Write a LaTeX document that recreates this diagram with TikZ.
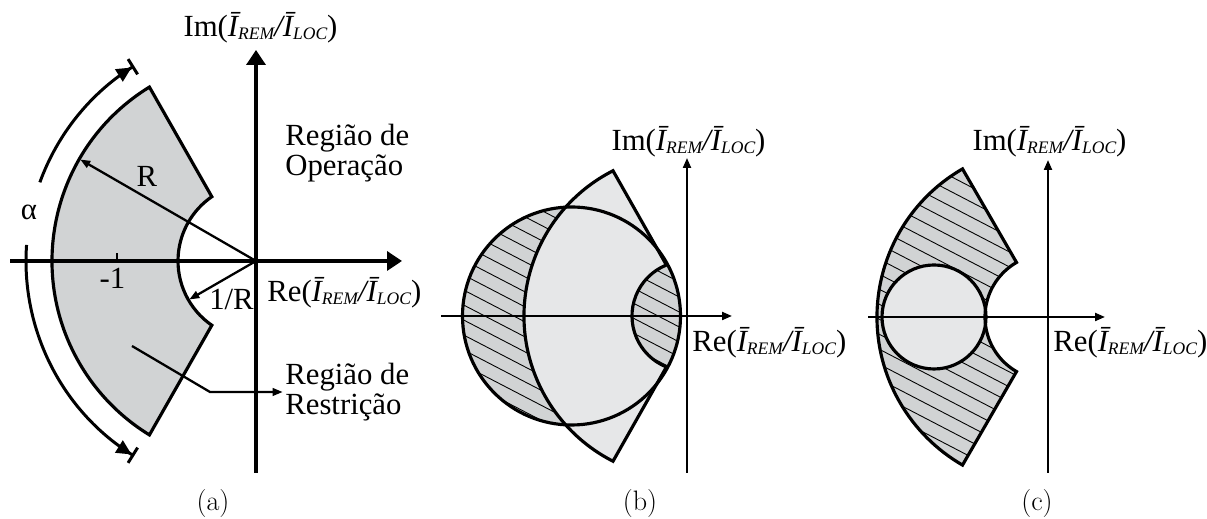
\documentclass[tikz,border=0pt]{standalone}
\usepackage{fontspec}
\newfontfamily\labelfont{Liberation Serif}
\usetikzlibrary{arrows.meta}
\definecolor{darkfill}{RGB}{209,211,212}
\definecolor{lightfill}{RGB}{230,231,232}
\newcommand{\irel}{{\itshape Ī\raisebox{-0.2ex}{\fontsize{10}{11}\selectfont REM}/Ī\raisebox{-0.2ex}{\fontsize{10}{11}\selectfont LOC}}}
% annular sector: outer radius, outer angle, inner radius, inner angle
\newcommand{\sectorpath}[4]{(#2:#1) arc[start angle=#2,end angle={360-#2},radius=#1] -- ({360-#4}:#3) arc[start angle={360-#4},end angle=#4,radius=#3] -- cycle}

\begin{document}
\begin{tikzpicture}[x=0.02cm,y=0.02cm,every node/.style={font=\labelfont\fontsize{17.5}{17}\selectfont,inner sep=0},
  outline/.style={line width=1.8pt,line join=miter},
  bigaxis/.style={line width=2pt,-{Triangle[length=0.3cm,width=0.38cm]}},
  smallaxis/.style={line width=1.2pt,-{Triangle[length=0.2cm,width=0.16cm]}},
  pointer/.style={line width=1.3pt,-{Triangle[length=0.2cm,width=0.15cm]}},
  anglearc/.style={line width=1.7pt,-{Triangle[length=0.3cm,width=0.28cm]Bar[width=0.36cm]}},
  hatch/.style={line width=0.5pt},
  caption/.style={font=\rmfamily\fontsize{16}{18}\selectfont,anchor=base}]
\useasboundingbox (0,0) rectangle (1207,519);

% (a) plano alfa
\begin{scope}[shift={(256,258)}]
\coordinate (Oa) at (0,0); \coordinate (Rtip) at (150:203); \coordinate (invRtip) at (210:77);
\coordinate (lead) at (-124,-85); \coordinate (bend) at (-46,-131);
\filldraw[outline,fill=darkfill] \sectorpath{204}{121.5}{78}{124.5};
\draw[bigaxis] (-246,0) -- (146,0); \draw[bigaxis] (0,-212) -- (0,211);
\draw[line width=1.5pt] (-139,0) -- (-139,8);
\draw[anglearc] (160:230) arc[start angle=160,end angle=122,radius=230];
\draw[anglearc] (176:230) arc[start angle=176,end angle=238,radius=230];
\node[anchor=base] (ima) at (4.5,224) {Im(\irel)};
\node[anchor=base west] (rea) at (11,-41) {Re(\irel)};
\node[anchor=west,align=left] (op) at (29,108) {Região de\\Operação};
\node[anchor=west,align=left] (rr) at (29,-131) {Região de\\Restrição};
\node[anchor=base] (rlab) at (-109,74) {R};
\node[anchor=base] (invr) at (-24.5,-49) {1/R};
\node[anchor=base] (one) at (-143.5,-28) {-1};
\node (alpha) at (-227,48.5) {α};
\draw[pointer] (Oa) -- (Rtip); \draw[pointer] (Oa) -- (invRtip);
\draw[pointer,shorten >=1.3pt] (lead) -- (bend) -- (rr.west);
\end{scope}

% (b)
\begin{scope}[shift={(687,203)}]
\fill[lightfill] \sectorpath{163}{117}{55}{112};
\begin{scope}
\clip (-115.5,0) circle (109);
\fill[darkfill] (-115.5,0) circle (109);
\foreach \c in {-18,...,18} \draw[hatch] (-260,{135+15*\c}) -- (20,{-10.4+15*\c});
\fill[lightfill] \sectorpath{163}{117}{55}{112};
\end{scope}
\draw[outline] (-115.5,0) circle (109);
\draw[outline] \sectorpath{163}{117}{55}{112};
\draw[smallaxis] (-246,0) -- (45,0); \draw[smallaxis] (0,-157) -- (0,158);
\node[anchor=base] (imb) at (1.5,165) {Im(\irel)};
\node[anchor=base west] (reb) at (5,-36) {Re(\irel)};
\end{scope}

% (c)
\begin{scope}[shift={(1048,202)}]
\begin{scope}
\clip \sectorpath{171}{120}{63}{120};
\fill[darkfill] (-200,-200) rectangle (0,200);
\foreach \c in {-22,...,22} \draw[hatch] (-200,{104+15*\c}) -- (0,{15*\c});
\end{scope}
\filldraw[outline,fill=lightfill] (-114,0) circle (52);
\draw[outline] \sectorpath{171}{120}{63}{120};
\draw[smallaxis] (-180,0) -- (57,0); \draw[smallaxis] (0,-156) -- (0,157);
\node[anchor=base] (imc) at (1.5,166) {Im(\irel)};
\node[anchor=base west] (rec) at (5,-35) {Re(\irel)};
\end{scope}

\node[caption] (capa) at (213,8) {(a)};
\node[caption] (capb) at (640,8) {(b)};
\node[caption] (capc) at (1037,8) {(c)};
\end{tikzpicture}
\end{document}
